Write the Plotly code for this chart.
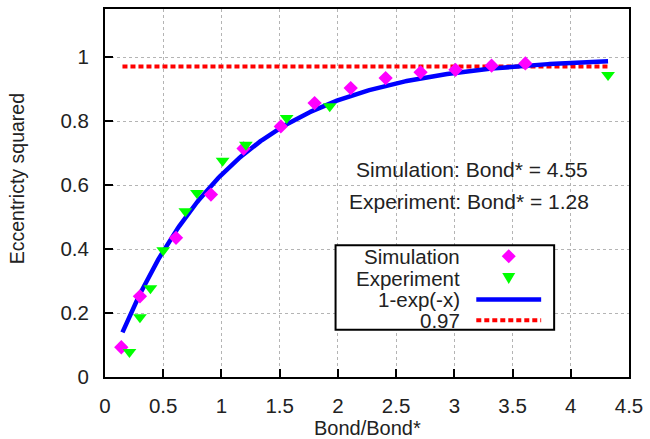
import numpy as np
import plotly.graph_objects as go

# ---------------- data ----------------
sim_x = [0.14, 0.30, 0.61, 0.91, 1.19, 1.51, 1.80, 2.11, 2.41, 2.71, 3.01, 3.32, 3.61]
sim_y = [0.093, 0.252, 0.435, 0.570, 0.714, 0.783, 0.856, 0.903, 0.934, 0.952, 0.960, 0.973, 0.980]

exp_x = [0.21, 0.30, 0.39, 0.50, 0.69, 0.79, 1.01, 1.21, 1.56, 1.93, 4.32]
exp_y = [0.078, 0.187, 0.277, 0.396, 0.518, 0.575, 0.676, 0.726, 0.809, 0.846, 0.944]

fit_x_min = 0.15
fit_x_max = 4.32
plateau = 0.97

legend_labels = ["Simulation", "Experiment", "1-exp(-x)", "0.97"]
note_texts = ["Simulation: Bond* = 4.55", "Experiment: Bond* = 1.28"]
note_x = [3.15, 3.13]
note_y = [0.649, 0.548]

x_ticks = [0, 0.5, 1, 1.5, 2, 2.5, 3, 3.5, 4, 4.5]
x_tick_text = ["0", "0.5", "1", "1.5", "2", "2.5", "3", "3.5", "4", "4.5"]
y_ticks = [0, 0.2, 0.4, 0.6, 0.8, 1]
y_tick_text = ["0", "0.2", "0.4", "0.6", "0.8", "1"]

x_title = "Bond/Bond*"
y_title = "Eccentricty squared"

# ---------------- styling ----------------
W, H = 650, 439
ML, MR, MT, MB = 105, 20, 7, 62
FONT = "Liberation Sans, Arial, Helvetica, sans-serif"
TXT = "#222222"
FS = 21
MAGENTA = "#ff00ff"
GREEN = "#00ff00"
BLUE = "#0000ff"
RED = "#ff0000"

fit_x = np.linspace(fit_x_min, fit_x_max, 300)
fit_y = 1 - np.exp(-fit_x)

fig = go.Figure()
fig.add_trace(go.Scatter(x=fit_x, y=[plateau] * len(fit_x), mode="lines",
                         line=dict(color=RED, width=4, dash="5px,3px"),
                         name=legend_labels[3], showlegend=False))
fig.add_trace(go.Scatter(x=fit_x, y=fit_y, mode="lines",
                         line=dict(color=BLUE, width=4.5),
                         name=legend_labels[2], showlegend=False))
fig.add_trace(go.Scatter(x=sim_x, y=sim_y, mode="markers",
                         marker=dict(symbol="diamond", size=11, color=MAGENTA, line=dict(width=0)),
                         name=legend_labels[0], showlegend=False))
fig.add_trace(go.Scatter(x=exp_x, y=exp_y, mode="markers",
                         marker=dict(symbol="triangle-down", size=12, color=GREEN, line=dict(width=0)),
                         name=legend_labels[1], showlegend=False))

pw = W - ML - MR
ph = H - MT - MB


def px2x(px):
    return (px - ML) / pw


def px2y(py):
    return (H - MB - py) / ph


shapes = []
annotations = []

# legend box
shapes.append(dict(type="rect", xref="paper", yref="paper",
                   x0=px2x(336), x1=px2x(555), y0=px2y(329.5), y1=px2y(244.5),
                   line=dict(color="black", width=2), fillcolor="white", layer="above"))
row_py = [255.5, 277.5, 299, 320]
text_px = 462
samp_x0, samp_x1 = 477, 542
samp_c = (samp_x0 + samp_x1) / 2
for lab, py in zip(legend_labels, row_py):
    annotations.append(dict(text=lab, xref="paper", yref="paper", x=px2x(text_px), y=px2y(py),
                            xanchor="right", yanchor="middle", showarrow=False, borderpad=0,
                            font=dict(family=FONT, size=FS - 0.5, color=TXT)))
# sample: diamond
shapes.append(dict(type="path", xref="paper", yref="paper", xsizemode="pixel", ysizemode="pixel",
                   xanchor=px2x(samp_c), yanchor=px2y(row_py[0]),
                   path="M 0 7 L 7 0 L 0 -7 L -7 0 Z", fillcolor=MAGENTA,
                   line=dict(width=0), layer="above"))
# sample: triangle down
shapes.append(dict(type="path", xref="paper", yref="paper", xsizemode="pixel", ysizemode="pixel",
                   xanchor=px2x(samp_c), yanchor=px2y(row_py[1]),
                   path="M -6.5 5 L 6.5 5 L 0 -6 Z", fillcolor=GREEN,
                   line=dict(width=0), layer="above"))
# sample lines
shapes.append(dict(type="line", xref="paper", yref="paper",
                   x0=px2x(samp_x0), x1=px2x(samp_x1), y0=px2y(row_py[2]), y1=px2y(row_py[2]),
                   line=dict(color=BLUE, width=4.5), layer="above"))
shapes.append(dict(type="line", xref="paper", yref="paper",
                   x0=px2x(samp_x0), x1=px2x(samp_x1), y0=px2y(row_py[3]), y1=px2y(row_py[3]),
                   line=dict(color=RED, width=4, dash="5px,3px"), layer="above"))

for t, xx, yy in zip(note_texts, note_x, note_y):
    annotations.append(dict(text=t, x=xx, y=yy, xref="x", yref="y", showarrow=False,
                            xanchor="center", yanchor="middle",
                            font=dict(family=FONT, size=FS, color=TXT)))

annotations.append(dict(text=y_title, xref="paper", yref="paper", x=px2x(17), y=px2y(178),
                        xanchor="center", yanchor="middle", textangle=-90, showarrow=False,
                        font=dict(family=FONT, size=FS - 1.5, color=TXT)))
annotations.append(dict(text=x_title, xref="paper", yref="paper", x=0.5, y=px2y(428),
                        xanchor="center", yanchor="middle", showarrow=False,
                        font=dict(family=FONT, size=FS - 1, color=TXT)))

axis_common = dict(showline=True, linecolor="black", linewidth=2, mirror=True,
                   ticks="inside", ticklen=8, tickwidth=2, tickcolor="black",
                   showgrid=True, gridcolor="#b4b4b4", gridwidth=1, griddash="3px,3px",
                   zeroline=False, tickfont=dict(family=FONT, size=FS - 0.5, color=TXT))

fig.update_layout(
    width=W, height=H,
    margin=dict(l=ML, r=MR, t=MT, b=MB),
    paper_bgcolor="white", plot_bgcolor="white",
    showlegend=False,
    xaxis=dict(range=[0, 4.5], tickvals=x_ticks, ticktext=x_tick_text,
               ticklabelstandoff=9, **axis_common),
    yaxis=dict(range=[0, 1.15], tickvals=y_ticks, ticktext=y_tick_text,
               ticklabelstandoff=10, **axis_common),
    shapes=shapes,
    annotations=annotations,
)

fig.write_html("out.html")
